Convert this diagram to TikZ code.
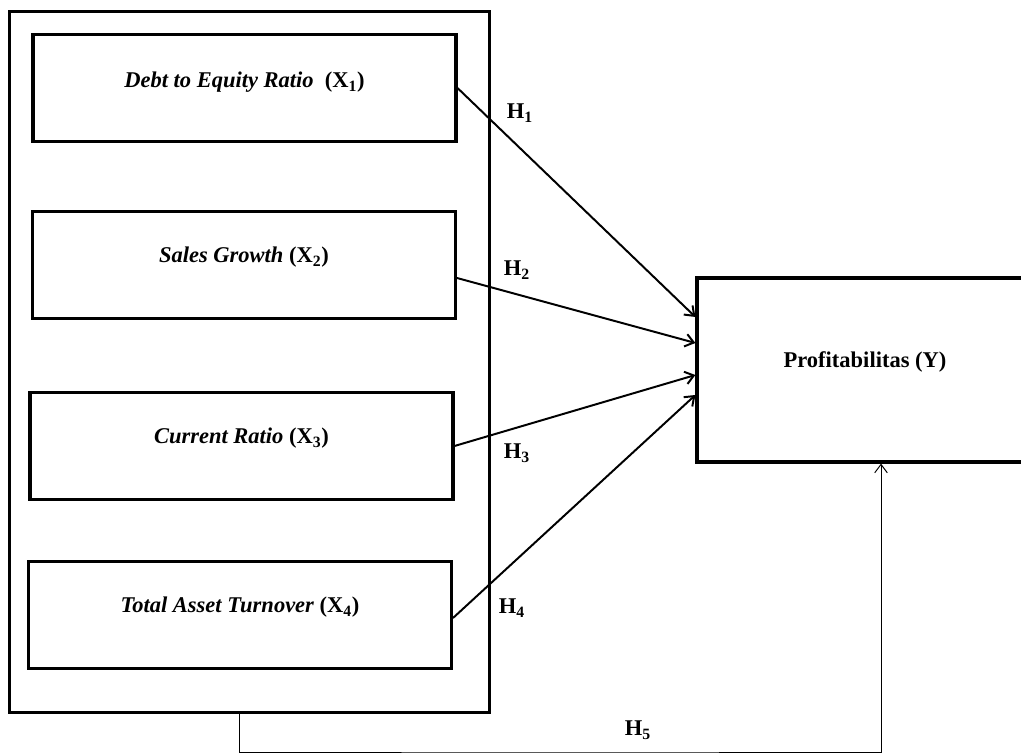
\documentclass[tikz,border=0pt]{standalone}
\usepackage{fontspec}
\setmainfont{Liberation Serif}
\usetikzlibrary{arrows.meta,positioning}

\begin{document}
\begin{tikzpicture}[x=0.025cm, y=-0.025cm,
    boxtext/.style={font=\fontsize{16}{18}\selectfont\bfseries, text height=10pt, text depth=13pt, inner sep=0pt},
    varbox/.style={boxtext, draw, line width=2.2pt, minimum width=10.57cm, minimum height=2.66cm},
    link/.style={line width=1.4pt, -{Straight Barb[length=6pt,width=9pt]}},
    hlabel/.style={font=\fontsize{16}{18}\selectfont\bfseries}]
    \useasboundingbox (0,0) rectangle (1021,754);

    % Outer frame
    \node[draw, line width=2.2pt, minimum width=11.975cm, minimum height=17.5cm, inner sep=0pt] (outer) at (249.5,362) {};

    % Independent variables
    \node[varbox, text depth=10pt] (x1) at (244.5,88) {\itshape Debt to Equity Ratio\ \ \upshape(X\textsubscript{1})};
    \node[varbox] (x2) at (244,265) {\itshape Sales Growth \upshape(X\textsubscript{2})};
    \node[varbox] (x3) at (241.5,446) {\itshape Current Ratio \upshape(X\textsubscript{3})};
    \node[varbox] (x4) at (240,615) {\itshape Total Asset Turnover \upshape(X\textsubscript{4})};

    % Dependent variable
    \node[boxtext, draw, line width=2.2pt, minimum width=8.4cm, minimum height=4.6cm] (profit) at (865,370) {Profitabilitas (Y)};

    % Hypotheses
    \draw[link] (x1.east) -- ([yshift=1.325cm]profit.west);
    \draw[link] ([yshift=-0.325cm]x2.east) -- ([yshift=0.675cm]profit.west);
    \draw[link] (x3.east) -- ([yshift=-0.125cm]profit.west);
    \draw[link] ([yshift=-0.075cm]x4.east) -- ([yshift=-0.625cm]profit.west);

    \node[hlabel] (h1) at (520,113) {H\textsubscript{1}};
    \node[hlabel] (h2) at (517,270) {H\textsubscript{2}};
    \node[hlabel] (h3) at (517,453) {H\textsubscript{3}};
    \node[hlabel] (h4) at (512,608) {H\textsubscript{4}};

    % Simultaneous effect
    \coordinate (h5turn) at (560,752);
    \draw[line width=0.7pt, -{Straight Barb[length=6pt,width=9pt]}] ([xshift=-0.24cm]outer.south) |- (h5turn) -| ([xshift=0.4cm]profit.south);
    \node[hlabel] (h5) at (638,730) {H\textsubscript{5}};
\end{tikzpicture}
\end{document}
